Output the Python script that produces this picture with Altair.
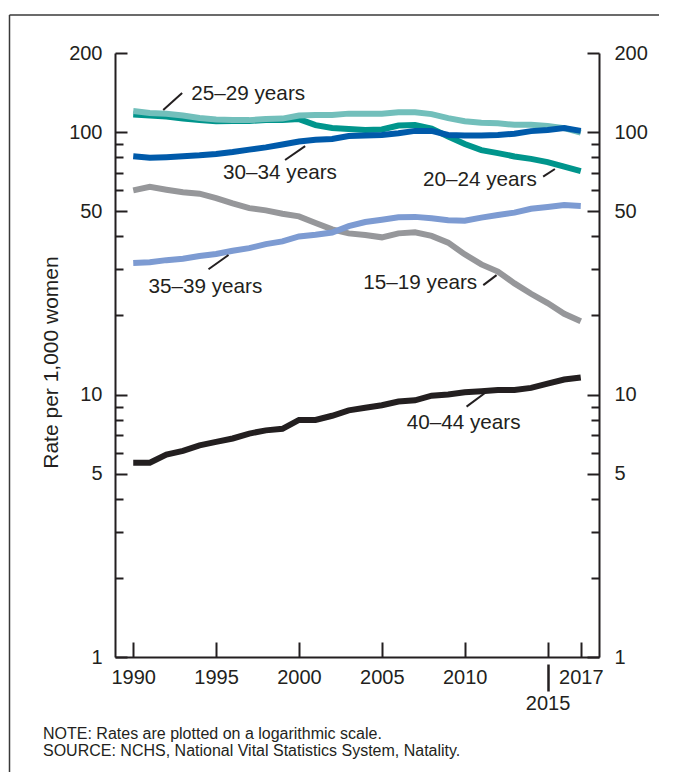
import altair as alt
import pandas as pd

# ---------------- data ----------------
years = list(range(1990, 2018))

series_names = ["15–19 years", "20–24 years", "25–29 years",
                "30–34 years", "35–39 years", "40–44 years"]

rate_15_19 = [59.9, 61.8, 60.3, 59.0, 58.2, 56.0, 53.5, 51.3, 50.3, 48.8,
              47.7, 45.0, 42.6, 41.1, 40.5, 39.7, 41.1, 41.5, 40.2, 37.9,
              34.2, 31.3, 29.4, 26.5, 24.2, 22.3, 20.3, 19.0]
rate_20_24 = [116.5, 115.7, 114.6, 112.6, 111.1, 109.8, 110.1, 110.1, 111.2, 111.0,
              112.0, 106.2, 103.6, 102.6, 101.7, 102.2, 105.9, 106.3, 103.0, 96.2,
              90.0, 85.3, 83.1, 80.7, 79.0, 76.8, 73.8, 71.0]
rate_25_29 = [120.2, 118.2, 117.4, 115.5, 113.0, 111.5, 111.0, 111.0, 112.0, 112.5,
              115.5, 116.0, 116.0, 117.5, 117.5, 117.5, 119.0, 119.0, 117.0, 113.0,
              110.0, 108.5, 108.0, 106.5, 106.5, 105.5, 103.5, 99.5]
rate_30_34 = [80.8, 79.8, 80.2, 80.8, 81.5, 82.5, 83.9, 85.7, 87.4, 89.6,
              92.0, 93.5, 94.0, 96.5, 97.0, 97.5, 99.0, 101.0, 101.0, 97.5,
              97.0, 97.0, 97.5, 98.5, 100.8, 101.8, 103.5, 101.0]
rate_35_39 = [31.7, 31.9, 32.5, 32.9, 33.7, 34.3, 35.3, 36.1, 37.4, 38.3,
              40.0, 40.6, 41.4, 43.8, 45.4, 46.3, 47.3, 47.5, 46.9, 46.1,
              45.9, 47.2, 48.3, 49.3, 51.0, 51.8, 52.7, 52.3]
rate_40_44 = [5.5, 5.5, 5.9, 6.1, 6.4, 6.6, 6.8, 7.1, 7.3, 7.4,
              8.0, 8.0, 8.3, 8.7, 8.9, 9.1, 9.4, 9.5, 9.9, 10.0,
              10.2, 10.3, 10.4, 10.4, 10.6, 11.0, 11.4, 11.6]

all_rates = [rate_15_19, rate_20_24, rate_25_29, rate_30_34, rate_35_39, rate_40_44]

# annotation labels (anchored in data units) and their leader lines
ann_labels = ["25–29 years", "30–34 years", "20–24 years",
              "35–39 years", "15–19 years", "40–44 years"]
ann_year = [1993.50, 1995.42, 2007.48, 1990.92, 2003.88, 2006.50]
ann_rate = [139.6, 69.8, 65.6, 25.75, 26.5, 7.77]
lead_year1 = [1991.81, 1999.16, 2014.73, 1994.54, 2011.12, 2010.11]
lead_rate1 = [121.3, 78.2, 67.6, 30.0, 26.1, 8.99]
lead_year2 = [1992.95, 2000.37, 2015.44, 1995.75, 2011.92, 2011.32]
lead_rate2 = [140.8, 88.4, 72.3, 34.0, 28.5, 10.25]

y_label_values = [1, 5, 10, 50, 100, 200]
y_tick_values = [1, 2, 3, 4, 5, 6, 7, 8, 9, 10, 20, 30, 40, 50, 60, 70, 80, 90, 100, 200]
x_label_years = [1990, 1995, 2000, 2005, 2010, 2017]
x_tick_years = [1990, 1995, 2000, 2005, 2010, 2015, 2017]

note_lines = ["NOTE: Rates are plotted on a logarithmic scale.",
              "SOURCE: NCHS, National Vital Statistics System, Natality."]

colors = ["#96979a", "#00958c", "#72bfbb", "#005aaa", "#7d9bd2", "#231f20"]

# ---------------- tables ----------------
rows = []
for name, vals in zip(series_names, all_rates):
    for yr, v in zip(years, vals):
        rows.append({"year": yr, "rate": v, "group": name})
df = pd.DataFrame(rows)

ann_df = pd.DataFrame({"label": ann_labels, "year": ann_year, "rate": ann_rate})
lead_df = pd.DataFrame({"year": lead_year1, "rate": lead_rate1,
                        "year2": lead_year2, "rate2": lead_rate2})
one_row = pd.DataFrame({"t": [0]})

# ---------------- styling ----------------
W, H = 484, 604
FONT = "Liberation Sans"
INK = "#231f20"

x_scale = alt.Scale(domain=[1988.9, 2018.1], nice=False, zero=False)
y_scale = alt.Scale(type="log", domain=[1, 200], nice=False)

y_tick_size = {"condition": {"test": "indexof([1,5,10,50,100,200], datum.value) >= 0",
                             "value": 12}, "value": 8}

common = dict(grid=False, title=None, labelFlush=False, labelOverlap=False)

base = alt.Chart(df)

# outer frame: only the top and left edges are inside the picture
frame_top = alt.Chart(one_row).mark_rule(stroke="#3a3a3a", strokeWidth=1.5).encode(
    x=alt.value(-105.5), x2=alt.value(W + 60), y=alt.value(-38)
)
frame_left = alt.Chart(one_row).mark_rule(stroke="#3a3a3a", strokeWidth=1.5).encode(
    x=alt.value(-105.5), y=alt.value(-38), y2=alt.value(H + 115)
)

lines = base.mark_line(strokeWidth=6, strokeCap="butt").encode(
    x=alt.X("year:Q", scale=x_scale,
            axis=alt.Axis(orient="bottom", values=x_label_years, format="d", ticks=False,
                          labelPadding=10, domain=True, domainColor=INK, domainWidth=2,
                          labelFont=FONT, labelFontSize=20, labelColor=INK, **common)),
    y=alt.Y("rate:Q", scale=y_scale,
            axis=alt.Axis(orient="left", values=y_label_values, format="d", ticks=False,
                          labelPadding=13, domain=True, domainColor=INK, domainWidth=2,
                          labelFont=FONT, labelFontSize=20, labelColor=INK,
                          grid=False, labelFlush=False, labelOverlap=False,
                          title="Rate per 1,000 women", titleFont=FONT, titleFontSize=21,
                          titleFontWeight="normal", titleColor=INK, titleX=-64, titleY=309,
                          titleBaseline="middle", titleAngle=270)),
    color=alt.Color("group:N", scale=alt.Scale(domain=series_names, range=colors), legend=None),
)

ticks_in = base.mark_line(opacity=0).encode(
    x=alt.X("year:Q", scale=x_scale,
            axis=alt.Axis(orient="top", offset=-H, values=x_tick_years, labels=False,
                          domain=False, ticks=True, tickSize=15, tickWidth=2, tickColor=INK,
                          **common)),
    y=alt.Y("rate:Q", scale=y_scale,
            axis=alt.Axis(orient="right", offset=-W, values=y_tick_values, labels=False,
                          domain=False, ticks=True, tickSize=y_tick_size, tickWidth=2,
                          tickColor=INK, **common)),
    detail="group:N",
)

right_and_2015 = base.mark_line(opacity=0).encode(
    x=alt.X("year:Q", scale=x_scale,
            axis=alt.Axis(orient="bottom", offset=7, values=[2015], format="d",
                          domain=False, ticks=True, tickSize=27, tickWidth=2.5, tickColor=INK,
                          labelPadding=2, labelFont=FONT, labelFontSize=20, labelColor=INK,
                          **common)),
    y=alt.Y("rate:Q", scale=y_scale,
            axis=alt.Axis(orient="right", values=y_label_values, format="d", ticks=False,
                          labelPadding=15, domain=True, domainColor=INK, domainWidth=2,
                          labelFont=FONT, labelFontSize=20, labelColor=INK, **common)),
    detail="group:N",
)

ticks_right = base.mark_line(opacity=0).encode(
    x=alt.X("year:Q", scale=x_scale, axis=None),
    y=alt.Y("rate:Q", scale=y_scale,
            axis=alt.Axis(orient="left", offset=-W, values=y_tick_values, labels=False,
                          domain=False, ticks=True, tickSize=y_tick_size, tickWidth=2,
                          tickColor=INK, **common)),
    detail="group:N",
)

leaders = alt.Chart(lead_df).mark_rule(strokeWidth=2, color=INK).encode(
    x=alt.X("year:Q", scale=x_scale, axis=None),
    x2="year2:Q",
    y=alt.Y("rate:Q", scale=y_scale, axis=None),
    y2="rate2:Q",
)

labels = alt.Chart(ann_df).mark_text(align="left", baseline="middle", font=FONT,
                                     fontSize=20.7, color=INK).encode(
    x=alt.X("year:Q", scale=x_scale, axis=None),
    y=alt.Y("rate:Q", scale=y_scale, axis=None),
    text="label:N",
)

note1 = alt.Chart(one_row).mark_text(align="left", baseline="alphabetic", font=FONT,
                                     fontSize=16, color=INK, text=note_lines[0]).encode(
    x=alt.value(-72), y=alt.value(686))
note2 = alt.Chart(one_row).mark_text(align="left", baseline="alphabetic", font=FONT,
                                     fontSize=16, color=INK, text=note_lines[1]).encode(
    x=alt.value(-72), y=alt.value(703))

chart = alt.layer(
    frame_top, frame_left, lines, ticks_in, right_and_2015, ticks_right,
    leaders, labels, note1, note2
).resolve_axis(x="independent", y="independent").properties(
    width=W, height=H,
    padding={"left": 107, "top": 45, "right": 60, "bottom": 115},
    autosize=alt.AutoSizeParams(type="none"),
    background="white",
).configure_view(stroke="transparent")

chart.save("out.html", embed_options={"renderer": "svg", "actions": False})
